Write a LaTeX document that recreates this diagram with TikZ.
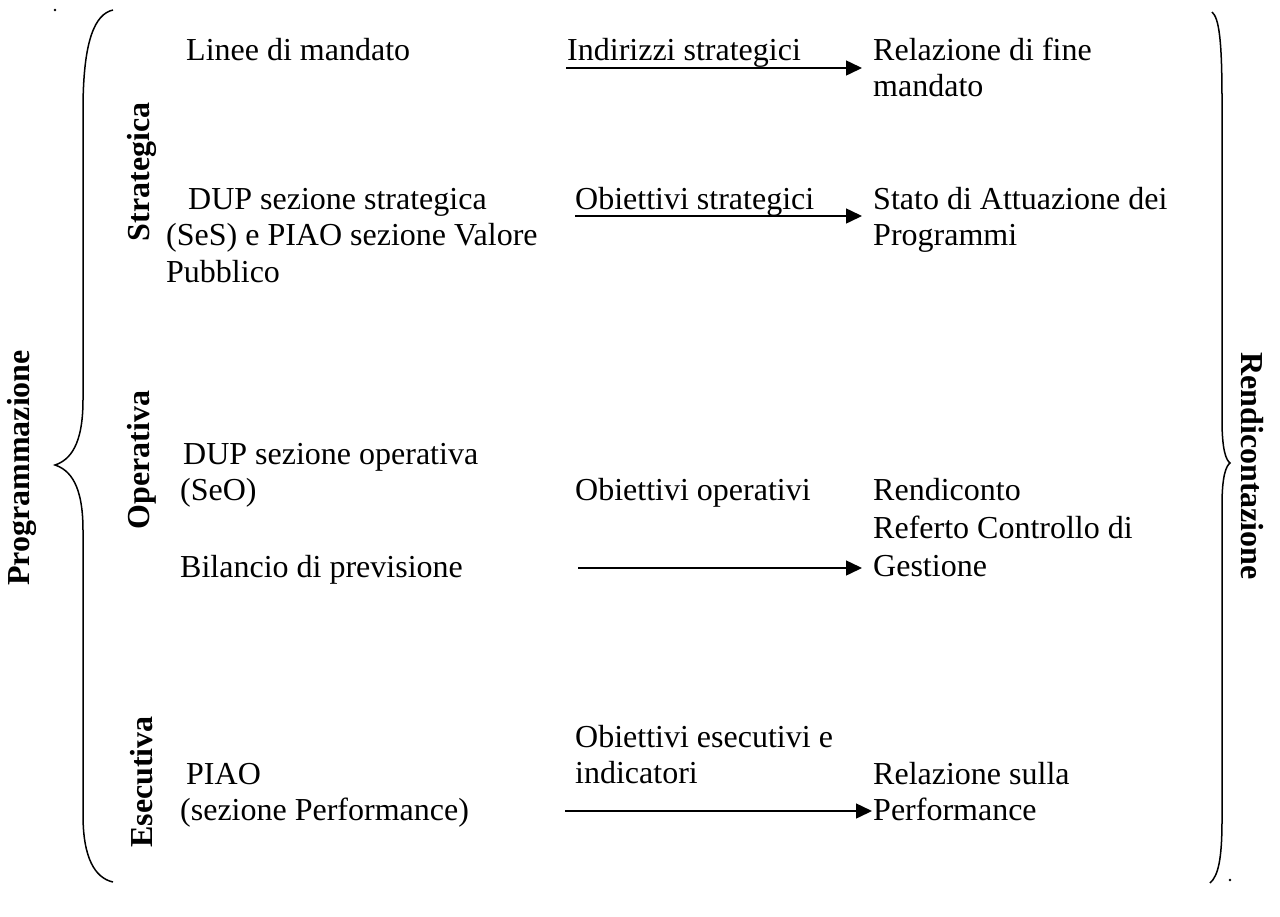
\documentclass[tikz,border=0pt]{standalone}
\usepackage{fontspec}
\setmainfont{Liberation Serif}
\usetikzlibrary{arrows.meta}
\begin{document}
\begin{tikzpicture}[x=1pt,y=-1pt,
  txt/.style={anchor=base west,inner sep=0pt,align=left,font=\fontsize{32}{36.8}\selectfont},
  side/.style={inner sep=0pt,font=\fontsize{32}{36.8}\selectfont\bfseries},
  conn/.style={line width=1.5pt,-{Triangle[length=16pt,width=15pt]}},
  brace/.style={line width=1.5pt}]
\useasboundingbox (0,0) rectangle (1280,916);
% braces
\draw[brace] (113,10) .. controls (95,14) and (83,40) .. (83,110) -- (83,400)
  .. controls (83,445) and (70,460) .. (55,465)
  .. controls (70,470) and (83,485) .. (83,530) -- (83,815)
  .. controls (83,858) and (95,878) .. (113,882);
\draw[brace] (1212,12) .. controls (1219,18) and (1222,40) .. (1222,100) -- (1222,420)
  .. controls (1222,450) and (1226,460) .. (1230,463)
  .. controls (1226,466) and (1222,476) .. (1222,505) -- (1222,820)
  .. controls (1222,860) and (1218,876) .. (1210,883);
\fill (55,10) circle (1.3pt);
\fill (1230,880) circle (1.3pt);
% side labels
\node[side,rotate=90] (prog) at (22,468) {Programmazione};
\node[side,rotate=-90] (rend) at (1252,466) {Rendicontazione};
\node[side,rotate=90] (strat) at (142,172) {Strategica};
\node[side,rotate=90] (oper) at (142,460) {Operativa};
\node[side,rotate=90] (esec) at (142,782) {Esecutiva};
% row 1 (anchor = baseline of last line)
\node[txt] (linee) at (186,60) {Linee di mandato};
\node[txt] (indir) at (567,60) {Indirizzi strategici};
\node[txt] (relfine) at (873,96.8) {Relazione di fine\\mandato};
\coordinate (a1s) at (566,68);
\coordinate (a1e) at (862,68);
\draw[conn] (a1s) -- (a1e);
% row 2
\node[txt] (dup1) at (166,282.6) {\hspace*{22pt}DUP sezione strategica\\(SeS) e PIAO sezione Valore\\Pubblico};
\node[txt] (obstr) at (575,209) {Obiettivi strategici};
\node[txt] (stato) at (873,245.8) {Stato di Attuazione dei\\Programmi};
\coordinate (a2s) at (575,216);
\coordinate (a2e) at (862,216);
\draw[conn] (a2s) -- (a2e);
% row 3
\node[txt] (dup2) at (180,500.8) {\hspace*{3pt}DUP sezione operativa\\(SeO)};
\node[txt] (bil) at (180,577) {Bilancio di previsione};
\node[txt] (obop) at (575,500) {Obiettivi operativi};
\node[txt] (rendic) at (873,576) {Rendiconto\\[1pt]Referto Controllo di\\[1pt]Gestione};
\coordinate (a3s) at (578,568);
\coordinate (a3e) at (862,568);
\draw[conn] (a3s) -- (a3e);
% row 4
\node[txt] (piao) at (180,820.8) {\hspace*{6pt}PIAO\\(sezione Performance)};
\node[txt] (obes) at (575,783.8) {Obiettivi esecutivi e\\indicatori};
\node[txt] (relperf) at (873,820.8) {Relazione sulla\\Performance};
\coordinate (a4s) at (565,811);
\coordinate (a4e) at (872,811);
\draw[conn] (a4s) -- (a4e);
\end{tikzpicture}
\end{document}
